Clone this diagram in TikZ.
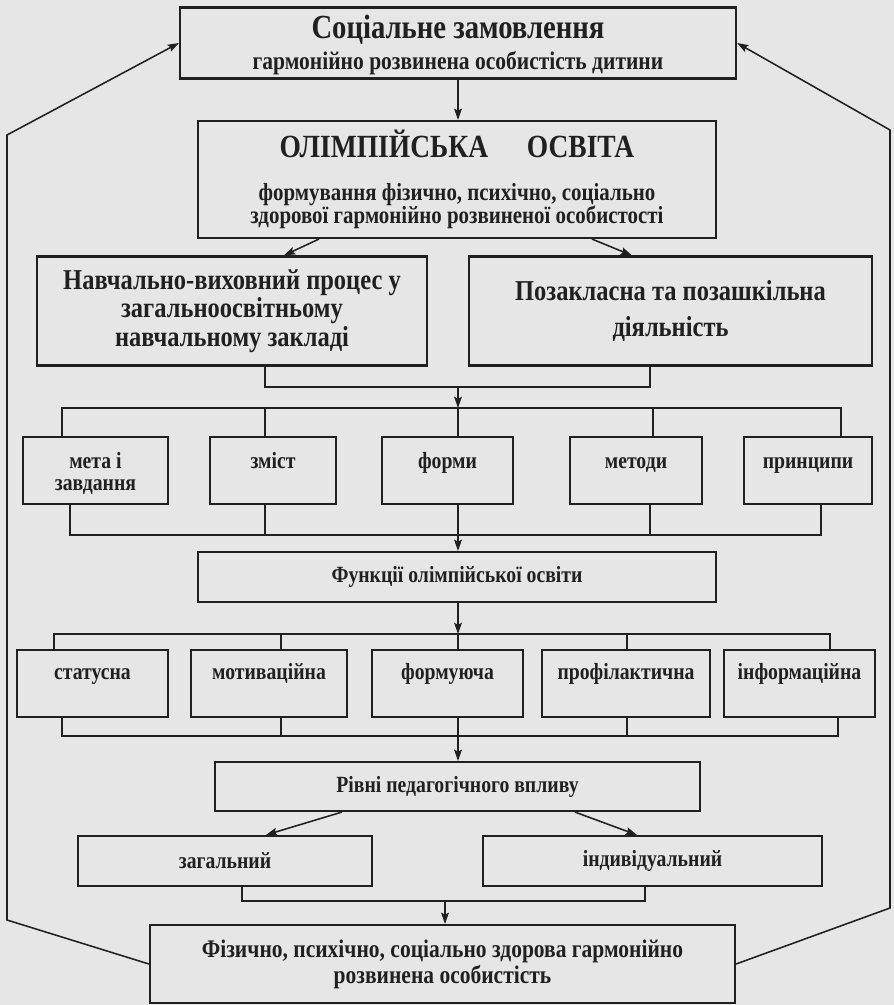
\documentclass[tikz,border=0pt]{standalone}
\usepackage{fontspec}
\setmainfont{Liberation Serif}[FakeStretch=0.85]
\usepackage{xcolor}
\usetikzlibrary{arrows.meta,positioning}

\definecolor{ink}{HTML}{202020}
\definecolor{paper}{HTML}{E6E6E6}
\newcommand{\fsz}[2]{\fontsize{#1}{#2}\selectfont\bfseries}
\newcommand{\hgt}{\vphantom{Й}}

\begin{document}
\begin{tikzpicture}[x=0.25mm, y=-0.25mm, >={Stealth[length=8pt, width=5.5pt, inset=1.4pt]}, text=ink,
  box/.style={draw=ink, line width=1.5pt, align=center, inner sep=2pt, font=\fsz{16.5}{17}},
  wh/.style 2 args={minimum width=#1*0.25mm, minimum height=#2*0.25mm},
  tag/.style={anchor=north, yshift=-8.8pt, align=center, inner sep=0pt, font=\fsz{16.5}{15.5}},
  link/.style={draw=ink, line width=1.1pt}]
\fill[paper] (0,0) rectangle (894,1005);

\node[box, wh={556}{71}, font=\fsz{18}{18}] (zam) at (458,43) {{\fsz{24}{25}\rule{0pt}{20pt}Соціальне замовлення}\\[4pt]гармонійно розвинена особистість дитини};
\node[box, wh={518}{117}, font=\fsz{17.5}{16.4}] (osv) at (457,179.5) {{\fsz{23}{23}ОЛІМПІЙСЬКА\hspace{1.2em}ОСВІТА}\\[14pt]формування фізично, психічно, соціально\\здорової гармонійно розвиненої особистості};
\node[box, wh={390}{109}, font=\fsz{20.5}{20.3}] (proc) at (232,311) {Навчально-виховний процес у\\загальноосвітньому\\навчальному закладі};
\node[box, wh={403}{109}, font=\fsz{20.5}{20.3}] (poza) at (670.5,311) {Позакласна та позашкільна\\[6pt]діяльність};

% components
\node[box, wh={145}{67}] (meta) at (95.5,470.5) {};
\node[box, wh={126}{67}] (zmist) at (273,470.5) {};
\node[box, wh={131}{67}] (formy) at (447.5,470.5) {};
\node[box, wh={132}{67}] (metody) at (636,470.5) {};
\node[box, wh={128}{67}] (pryn) at (808,470.5) {};
\node[tag] (metaT) at (meta.north) {\hgt мета і\\завдання};
\node[tag] (zmistT) at (zmist.north) {\hgt зміст};
\node[tag] (formyT) at (formy.north) {\hgt форми};
\node[tag] (metodyT) at (metody.north) {\hgt методи};
\node[tag] (prynT) at (pryn.north) {\hgt принципи};

\node[box, wh={518}{50}] (funk) at (457,577) {Функції олімпійської освіти};

% functions
\node[box, wh={151}{67}] (stat) at (92.5,683.5) {};
\node[box, wh={156}{67}] (motyv) at (269,683.5) {};
\node[box, wh={151}{67}] (formuy) at (447.5,683.5) {};
\node[box, wh={168}{67}] (profil) at (626,683.5) {};
\node[box, wh={151}{67}] (inform) at (799.5,683.5) {};
\node[tag, yshift=1.5pt] (statT) at (stat.north) {\hgt статусна};
\node[tag, yshift=1.5pt] (motyvT) at (motyv.north) {\hgt мотиваційна};
\node[tag, yshift=1.5pt] (formuyT) at (formuy.north) {\hgt формуюча};
\node[tag, yshift=1.5pt] (profilT) at (profil.north) {\hgt профілактична};
\node[tag, yshift=1.5pt] (informT) at (inform.north) {\hgt інформаційна};

\node[box, wh={485}{49}] (rivni) at (457.5,786.5) {Рівні педагогічного впливу};
\node[box, wh={294}{50}] (zah) at (225,861) {загальний};
\node[box, wh={339}{50}] (indyv) at (652.5,861) {індивідуальний};
\node[box, wh={585}{78}, font=\fsz{18}{18.5}] (fin) at (442.5,964) {Фізично, психічно, соціально здорова гармонійно\\розвинена особистість};

\coordinate (j1) at (458,387);
\coordinate (s1) at (458,408);
\coordinate (j2) at (458,535);
\coordinate (s2) at (458,634);
\coordinate (j3) at (458,736);
\coordinate (j4) at (445,901);
\coordinate (lb) at (7,920);
\coordinate (lt) at (7,135);
\coordinate (rb) at (890,908);
\coordinate (rt) at (890,130);

\draw[link,->] (zam.south) -- (zam.south |- osv.north);
\draw[link,->] ([xshift=30.5mm]osv.south west) -- ([xshift=62mm]proc.north west);
\draw[link,->] ([xshift=98.75mm]osv.south west) -- ([xshift=41mm]poza.north west);

\draw[link] (proc.south -| 265,0) |- (j1) -| (poza.south -| 650,0);
\draw[link,->] (j1) -- (s1);
\draw[link] (meta.north -| 62,0) |- (s1) -| (pryn.north -| 841,0);
\foreach \n/\x in {zmist/265, formy/458, metody/653}
  \draw[link] (\n.north -| \x,0) -- (s1 -| \x,0);

\draw[link] (meta.south -| 70,0) |- (j2) -| (pryn.south -| 821,0);
\foreach \n/\x in {zmist/265, metody/650}
  \draw[link] (\n.south -| \x,0) -- (j2 -| \x,0);
\draw[link,->] (formy.south -| j2) -- (funk.north -| j2);

\draw[link,->] (funk.south -| s2) -- (s2);
\draw[link] (stat.north -| 54,0) |- (s2) -| (inform.north -| 830,0);
\foreach \n/\x in {motyv/281, formuy/458, profil/627}
  \draw[link] (\n.north -| \x,0) -- (s2 -| \x,0);

\draw[link] (stat.south -| 62,0) |- (j3) -| (inform.south -| 838,0);
\foreach \n/\x in {motyv/281, profil/627}
  \draw[link] (\n.south -| \x,0) -- (j3 -| \x,0);
\draw[link,->] (formuy.south -| j3) -- (rivni.north -| j3);

\draw[link,->] ([xshift=32mm]rivni.south west) -- ([xshift=47.25mm]zah.north west);
\draw[link,->] ([xshift=90.25mm]rivni.south west) -- ([xshift=38.75mm]indyv.north west);
\draw[link] (zah.south -| 242,0) |- (j4) -| (indyv.south -| 645,0);
\draw[link,->] (j4) -- (fin.north -| j4);

% feedback to the social order
\draw[link,->] (fin.west) -- (lb) -- (lt) -- (zam.west);
\draw[link,->] (fin.east) -- (rb) -- (rt) -- (zam.east);
\end{tikzpicture}
\end{document}
